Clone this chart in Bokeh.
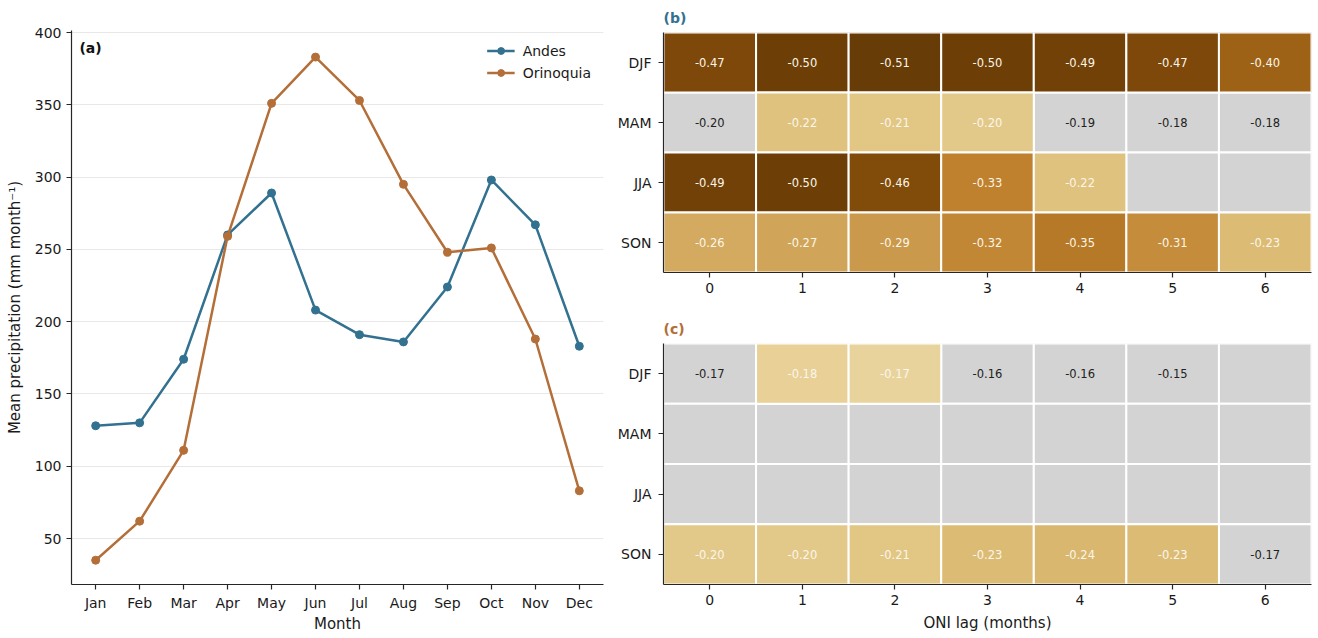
import numpy as np
from bokeh.plotting import figure
from bokeh.layouts import row, column
from bokeh.models import (ColumnDataSource, FixedTicker, Label, Legend, LegendItem,
                          LinearColorMapper, Title, FactorRange, Range1d)
from bokeh.transform import transform
from bokeh.embed import file_html
from bokeh.resources import INLINE

# ---------------- data ----------------
months = ["Jan", "Feb", "Mar", "Apr", "May", "Jun", "Jul", "Aug", "Sep", "Oct", "Nov", "Dec"]
andes = [128, 130, 174, 260, 289, 208, 191, 186, 224, 298, 267, 183]
orinoquia = [35, 62, 111, 259, 351, 383, 353, 295, 248, 251, 188, 83]

seasons = ["DJF", "MAM", "JJA", "SON"]
lags = [0, 1, 2, 3, 4, 5, 6]
nan = float("nan")

b_djf = [-0.47, -0.50, -0.51, -0.50, -0.49, -0.47, -0.40]
b_mam = [-0.20, -0.22, -0.21, -0.20, -0.19, -0.18, -0.18]
b_jja = [-0.49, -0.50, -0.46, -0.33, -0.22, nan, nan]
b_son = [-0.26, -0.27, -0.29, -0.32, -0.35, -0.31, -0.23]
b_sig_djf = [1, 1, 1, 1, 1, 1, 1]
b_sig_mam = [0, 1, 1, 1, 0, 0, 0]
b_sig_jja = [1, 1, 1, 1, 1, 0, 0]
b_sig_son = [1, 1, 1, 1, 1, 1, 1]

c_djf = [-0.17, -0.18, -0.17, -0.16, -0.16, -0.15, nan]
c_mam = [nan, nan, nan, nan, nan, nan, nan]
c_jja = [nan, nan, nan, nan, nan, nan, nan]
c_son = [-0.20, -0.20, -0.21, -0.23, -0.24, -0.23, -0.17]
c_sig_djf = [0, 1, 1, 0, 0, 0, 0]
c_sig_mam = [0, 0, 0, 0, 0, 0, 0]
c_sig_jja = [0, 0, 0, 0, 0, 0, 0]
c_sig_son = [1, 1, 1, 1, 1, 1, 0]

# ---------------- style ----------------
FONT = "DejaVu Sans"
AX = "#262626"
C_ANDES = "#32718f"
C_ORI = "#b46e38"
GRAY = "#d3d3d3"
BRBG_BROWN = ["#543005", "#8c510a", "#bf812d", "#dfc27d", "#f6e8c3", "#f5f5f5"]


def interp_palette(stops, n=256):
    rgb = np.array([[int(s[i:i + 2], 16) for i in (1, 3, 5)] for s in stops], float)
    pos = np.linspace(0, 1, len(stops))
    t = np.linspace(0, 1, n)
    out = []
    for tt in t:
        r, g, b = (np.interp(tt, pos, rgb[:, k]) for k in range(3))
        out.append("#%02x%02x%02x" % (int(round(r)), int(round(g)), int(round(b))))
    return out


palette = interp_palette(BRBG_BROWN)
mapper = LinearColorMapper(palette=palette, low=-0.55, high=0.0)


def style_axes(p):
    for ax in (p.xaxis[0], p.yaxis[0]):
        ax.axis_line_color = AX
        ax.axis_line_width = 1.2
        ax.major_tick_line_color = AX
        ax.major_tick_line_width = 1.2
        ax.major_tick_out = 5
        ax.major_tick_in = 0
        ax.minor_tick_line_color = None
        ax.major_label_text_font = FONT
        ax.major_label_text_font_size = "14px"
        ax.major_label_text_color = "#1a1a1a"
        ax.axis_label_text_font = FONT
        ax.axis_label_text_font_size = "15px"
        ax.axis_label_text_font_style = "normal"
        ax.axis_label_text_color = "#1a1a1a"
    p.outline_line_color = None


# ---------------- panel (a) ----------------
xs = list(range(len(months)))
pa = figure(width=614, height=638, x_range=Range1d(-0.55, 11.55), y_range=Range1d(18.2, 401.4),
            output_backend="svg", toolbar_location=None,
            min_border_left=71, min_border_right=11, min_border_top=30, min_border_bottom=54)
style_axes(pa)
pa.xaxis.ticker = FixedTicker(ticks=xs)
pa.xaxis.major_label_overrides = {i: m for i, m in enumerate(months)}
pa.yaxis.ticker = FixedTicker(ticks=[50, 100, 150, 200, 250, 300, 350, 400])
pa.xaxis.axis_label = "Month"
pa.yaxis.axis_label = "Mean precipitation (mm month\u207b\u00b9)"
pa.xaxis.axis_label_standoff = 1
pa.yaxis.axis_label_standoff = 8
pa.xgrid.visible = False
pa.ygrid.grid_line_color = "#e8e8e8"
pa.ygrid.grid_line_width = 1

src_a = ColumnDataSource(dict(x=xs, andes=andes, ori=orinoquia))
l1 = pa.line("x", "andes", source=src_a, color=C_ANDES, line_width=2.5)
s1 = pa.scatter("x", "andes", source=src_a, color=C_ANDES, size=8)
l2 = pa.line("x", "ori", source=src_a, color=C_ORI, line_width=2.5)
s2 = pa.scatter("x", "ori", source=src_a, color=C_ORI, size=8)
leg = Legend(items=[LegendItem(label="Andes", renderers=[l1, s1]),
                    LegendItem(label="Orinoquia", renderers=[l2, s2])],
             location="top_right", border_line_color=None, background_fill_alpha=0,
             label_text_font=FONT, label_text_font_size="14px", label_text_color="#1a1a1a",
             glyph_width=28, glyph_height=17, spacing=5, padding=6, margin=12,
             label_standoff=8)
pa.add_layout(leg)
pa.add_layout(Label(x=-0.37, y=395, text="(a)", text_font=FONT, text_font_size="14px",
                    text_font_style="bold", text_baseline="top", text_color="#111111"))


# ---------------- heatmaps ----------------
def heat(rows, sigs, title, tcolor, height, top, bottom, xlabel):
    p = figure(width=704, height=height, x_range=Range1d(-0.5, 6.5),
               y_range=FactorRange(*list(reversed(seasons))),
               output_backend="svg", toolbar_location=None,
               min_border_left=48, min_border_right=7, min_border_top=top, min_border_bottom=bottom)
    style_axes(p)
    p.xgrid.visible = False
    p.ygrid.visible = False
    p.yaxis.major_label_standoff = 7
    p.xaxis.ticker = FixedTicker(ticks=lags)
    if xlabel:
        p.xaxis.axis_label = xlabel
        p.xaxis.axis_label_standoff = 6
    p.title = Title(text=title, text_font=FONT, text_font_size="14px", text_font_style="bold",
                    text_color=tcolor, align="left", offset=0, standoff=10,
                    vertical_align="top")
    gx, gy, cx, cy, cv, tx, ty, tt, tc = [], [], [], [], [], [], [], [], []
    for s, vals, sg in zip(seasons, rows, sigs):
        for lag, v, k in zip(lags, vals, sg):
            has = not np.isnan(v)
            if has and k:
                cx.append(lag); cy.append(s); cv.append(v)
            else:
                gx.append(lag); gy.append(s)
            if has:
                tx.append(lag); ty.append(s); tt.append("%.2f" % v)
                tc.append("#fbf6ea" if k else "#222222")
    p.rect(gx, gy, width=1, height=1, fill_color=GRAY, line_color="white", line_width=2)
    srcc = ColumnDataSource(dict(x=cx, y=cy, v=cv))
    p.rect("x", "y", source=srcc, width=1, height=1, fill_color=transform("v", mapper),
           line_color="white", line_width=2)
    srct = ColumnDataSource(dict(x=tx, y=ty, t=tt, c=tc))
    p.text("x", "y", text="t", source=srct, text_color="c", text_align="center",
           text_baseline="middle", text_font_size="11.5px", text_font={"value": FONT})
    return p


pb = heat([b_djf, b_mam, b_jja, b_son], [b_sig_djf, b_sig_mam, b_sig_jja, b_sig_son],
          "(b)", C_ANDES, 312, 32, 40, None)
pc = heat([c_djf, c_mam, c_jja, c_son], [c_sig_djf, c_sig_mam, c_sig_jja, c_sig_son],
          "(c)", C_ORI, 326, 31, 54, "ONI lag (months)")

layout = row(pa, column(pb, pc, spacing=0), spacing=0)
open("out.html", "w").write(file_html(layout, INLINE))
